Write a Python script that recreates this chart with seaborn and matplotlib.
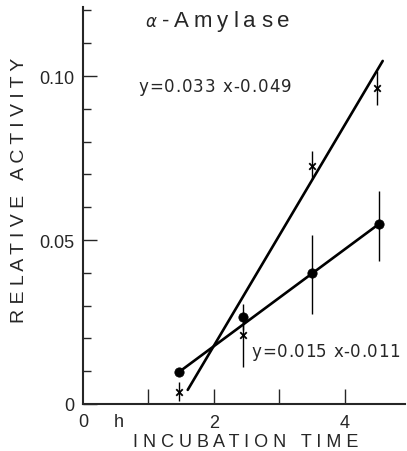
import matplotlib
matplotlib.use("Agg")
import matplotlib.pyplot as plt
from matplotlib.transforms import offset_copy
import seaborn as sns
import pandas as pd
import numpy as np

# measured points (h, relative activity)
circle_x = [1.47, 2.45, 3.5, 4.53]
circle_y = [0.0098, 0.0265, 0.040, 0.055]
circle_lo = [0.0098, 0.0225, 0.0274, 0.0436]
circle_hi = [0.0098, 0.0305, 0.0515, 0.065]

cross_x = [1.47, 2.45, 3.5, 4.5]
cross_y = [0.0037, 0.021, 0.0726, 0.0963]
cross_lo = [0.0009, 0.0113, 0.0686, 0.0912]
cross_hi = [0.0067, 0.025, 0.077, 0.1015]

# fitted line end points
fit_steep_x = [1.6, 4.58]
fit_steep_y = [0.0043, 0.1046]
fit_flat_x = [1.47, 4.53]
fit_flat_y = [0.0098, 0.055]

sns.set_style("ticks")
plt.rcParams["font.family"] = ["Liberation Sans", "DejaVu Sans"]

fig = plt.figure(figsize=(4.07, 4.52), dpi=100)
ax = fig.add_axes([0.204, 0.104, 0.791, 0.878])


def spaced_text(x, y, s, gap, **kw):
    # letter-spaced text, left aligned at data point (x, y)
    r = fig.canvas.get_renderer()

    def width(txt):
        t = ax.text(x, y, txt, **kw)
        w = t.get_window_extent(r).width
        t.remove()
        return w

    base = width("nn")
    pos = 0
    for ch in s:
        if ch != " ":
            ax.text(x, y, ch, ha="left", va="center",
                    transform=offset_copy(ax.transData, fig, x=pos, y=0, units="dots"),
                    **kw)
        pos += width("n" + ch + "n") - base + gap


circles = pd.DataFrame({"x": circle_x, "y": circle_y})
crosses = pd.DataFrame({"x": cross_x, "y": cross_y})

sns.lineplot(x=fit_steep_x, y=fit_steep_y, color="black", lw=1.9, ax=ax)
sns.lineplot(x=fit_flat_x, y=fit_flat_y, color="black", lw=1.9, ax=ax)

ax.vlines(circle_x, circle_lo, circle_hi, color="black", lw=1.0)
ax.vlines(cross_x, cross_lo, cross_hi, color="black", lw=1.0)

sns.scatterplot(data=circles, x="x", y="y", color="black", s=45,
                marker="o", edgecolor="black", ax=ax, zorder=5)
sns.scatterplot(data=crosses, x="x", y="y", color="black", s=22,
                marker="x", linewidth=1.3, ax=ax, zorder=5)

ax.set_xlim(0, 4.92)
ax.set_ylim(0, 0.121)

ax.set_xticks([1, 2, 3, 4])
ax.set_xticklabels(["", "2", "", "4"], fontsize=13)
ax.set_yticks([0, 0.05, 0.10])
ax.set_yticklabels(["0", "0.05", "0.10"], fontsize=13)
ax.set_yticks(np.arange(0.01, 0.125, 0.01), minor=True)
ax.tick_params(axis="x", direction="in", length=11, width=1, pad=7.5)
ax.tick_params(axis="y", which="major", direction="in", length=10, width=1, pad=6)
ax.tick_params(axis="y", which="minor", direction="in", length=6, width=1)

xt = ax.get_xaxis_transform()
ax.text(0, -0.043, "0", ha="center", va="center", fontsize=13, transform=xt, clip_on=False)
ax.text(0.54, -0.043, "h", ha="center", va="center", fontsize=13, transform=xt, clip_on=False)

for s in ["top", "right"]:
    ax.spines[s].set_visible(False)
for s in ["left", "bottom"]:
    ax.spines[s].set_linewidth(1.5)

ax.set_xlabel("I N C U B A T I O N   T I M E", fontsize=13)
ax.xaxis.label.set_va("center")
ax.xaxis.set_label_coords(0.505, -0.095)
ax.set_ylabel("R E L A T I V E   A C T I V I T Y", fontsize=14)
ax.yaxis.label.set_va("center")
ax.yaxis.set_label_coords(-0.197, 0.54)

ax.text(1.05, 0.1165, r"$\alpha$", ha="center", va="center", fontsize=12)
spaced_text(1.2, 0.117, "-Amylase", 5.0, fontsize=16)
spaced_text(0.84, 0.0969, "y=0.033 x-0.049", 1.0, fontsize=12, family="DejaVu Sans")
spaced_text(2.58, 0.0162, "y=0.015 x-0.011", 0.6, fontsize=12, family="DejaVu Sans")

fig.savefig("out.png", dpi=100)
plt.close(fig)
